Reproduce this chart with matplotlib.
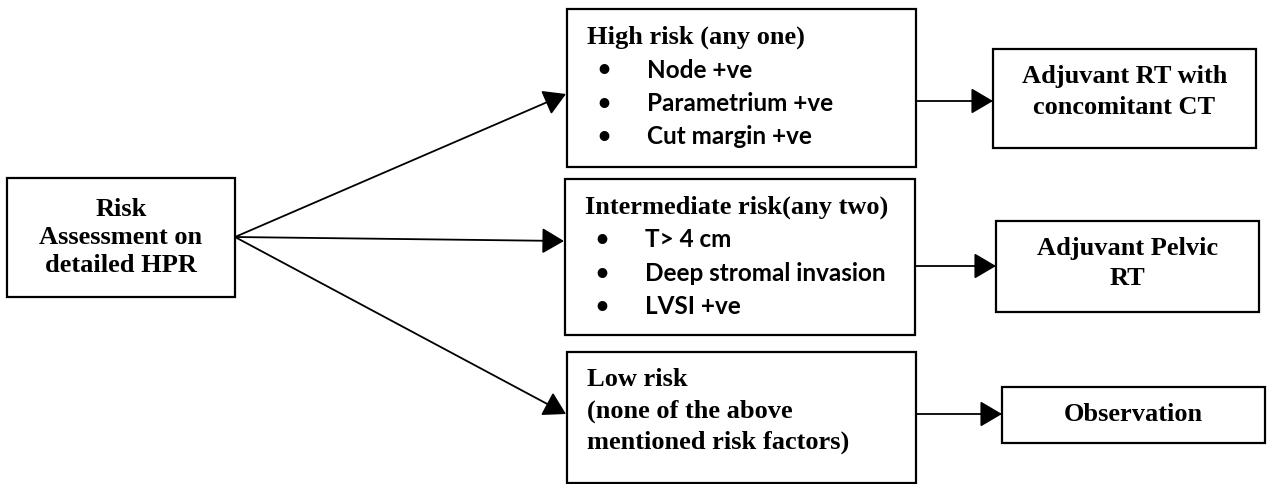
import matplotlib.pyplot as plt
from matplotlib.patches import Rectangle

# Text content of the flowchart
start_label = ['Risk', 'Assessment on', 'detailed HPR']
risk_titles = [['High risk (any one)'],
               ['Intermediate risk(any two)'],
               ['Low risk', '(none of the above', 'mentioned risk factors)']]
risk_bullets = [['Node +ve', 'Parametrium +ve', 'Cut margin +ve'],
                ['T> 4 cm', 'Deep stromal invasion', 'LVSI +ve'],
                []]
outcomes = [['Adjuvant RT with', 'concomitant CT'],
            ['Adjuvant Pelvic', 'RT'],
            ['Observation']]

# Layout (pixel coords, y down)
start_box = (7, 179, 235, 298)
risk_boxes = [(567, 10, 916, 168), (565, 180, 915, 336), (567, 353, 916, 484)]
risk_arrow_y = [95, 242, 415]
out_boxes = [(993, 50, 1256, 149), (996, 222, 1259, 313), (1002, 388, 1265, 444)]
out_arrow_y = [102, 267, 415]

serif = 'Liberation Serif'
sans = 'Lato'
fs_serif = 19
fs_sans = 17.5

fig = plt.figure(figsize=(12.7, 4.85), dpi=100)
ax = fig.add_axes([0, 0, 1, 1])
ax.set_xlim(0, 1270)
ax.set_ylim(485, 0)
ax.axis('off')


def box(b):
    x0, y0, x1, y1 = b
    ax.add_patch(Rectangle((x0, y0), x1 - x0, y1 - y0, fill=False,
                           edgecolor='black', lw=1.6))


def arrow(x0, y0, x1, y1):
    ax.annotate('', xy=(x1, y1), xytext=(x0, y0),
                arrowprops=dict(arrowstyle='-|>,head_length=0.68,head_width=0.4',
                                color='black', lw=1.3, mutation_scale=20,
                                shrinkA=0, shrinkB=0))


# start box
box(start_box)
cx = (start_box[0] + start_box[2]) / 2
for i, t in enumerate(start_label):
    ax.text(cx, 210 + i * 28, t, ha='center', va='center', fontsize=fs_serif,
            fontweight='bold', family=serif)

ox, oy = start_box[2], 238
for i, b in enumerate(risk_boxes):
    box(b)
    arrow(ox, oy, b[0] - 1, risk_arrow_y[i])
    ty = b[1] + 27
    for t in risk_titles[i]:
        ax.text(b[0] + 20, ty, t, ha='left', va='center', fontsize=fs_serif,
                fontweight='bold', family=serif)
        ty += 31
    for t in risk_bullets[i]:
        ax.text(b[0] + 37, ty + 2, '\u2022', ha='center', va='center',
                fontsize=16, fontweight='bold', family=sans)
        ax.text(b[0] + 80, ty + 2, t, ha='left', va='center', fontsize=fs_sans,
                fontweight='bold', family=sans)
        ty += 33.5

# outcome boxes
for i, b in enumerate(out_boxes):
    box(b)
    arrow(risk_boxes[i][2], out_arrow_y[i], b[0], out_arrow_y[i])
    cx = (b[0] + b[2]) / 2
    lines = outcomes[i]
    if len(lines) == 1:
        ys = [(b[1] + b[3]) / 2 - 1]
    else:
        ys = [b[1] + 27, b[1] + 57]
    for t, y in zip(lines, ys):
        ax.text(cx, y, t, ha='center', va='center', fontsize=fs_serif,
                fontweight='bold', family=serif)

fig.savefig('out.png', dpi=100, facecolor='white')
